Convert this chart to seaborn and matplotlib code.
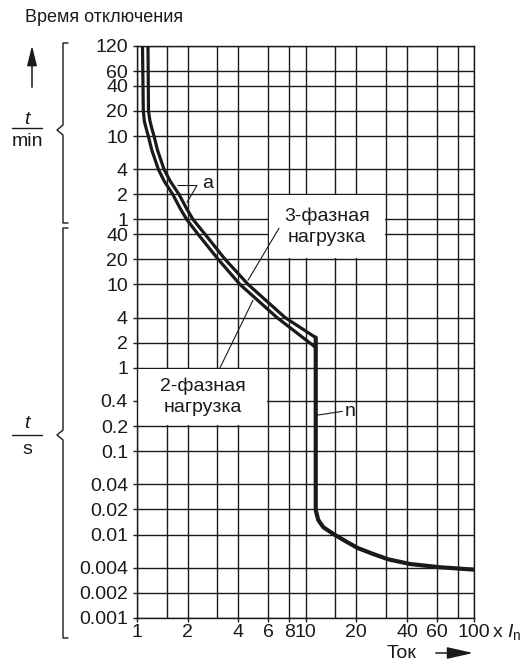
import numpy as np
import pandas as pd
import matplotlib
matplotlib.use('Agg')
import matplotlib.pyplot as plt
import seaborn as sns
from matplotlib.lines import Line2D
from matplotlib.patches import Rectangle
from matplotlib.ticker import NullFormatter

# Tripping curves (current in x In, time in seconds)
current_3ph = [1.162, 1.17, 1.194, 1.234, 1.262, 1.321, 1.446, 1.576, 1.775, 1.963,
               2.15, 2.53, 3.33, 4.56, 7.56, 11.5]
time_3ph = [7200, 1200, 905, 700, 600, 411, 240, 172, 120, 82,
            60, 40, 20, 10, 4, 2.3]

current_2ph = [1.078, 1.09, 1.105, 1.142, 1.167, 1.222, 1.338, 1.452, 1.629, 1.80,
               1.972, 2.30, 3.03, 4.08, 6.77, 11.1, 11.5]
time_2ph = [7200, 1200, 905, 700, 600, 411, 240, 172, 120, 82,
            60, 40, 20, 10, 4, 1.85, 1.75]

current_n = [11.5, 11.5, 11.9, 12.76, 14.6, 17.56, 20.5, 25.2, 30.9, 41.7, 62.7, 100]
time_n = [2.3, 0.0196, 0.015, 0.01225, 0.0102, 0.00818, 0.00687, 0.00586, 0.00506,
          0.00444, 0.00406, 0.0038]

# Axes ticks
x_ticks = [1, 2, 4, 6, 8, 10, 20, 40, 60, 100]
x_grid_extra = [1.5, 3, 15, 30, 80]
y_ticks = [0.001, 0.002, 0.004, 0.01, 0.02, 0.04, 0.1, 0.2, 0.4, 1, 2, 4, 10, 20, 40,
           60, 120, 240, 600, 1200, 2400, 3600, 7200]
y_labels = ['0.001', '0.002', '0.004', '0.01', '0.02', '0.04', '0.1', '0.2', '0.4',
            '1', '2', '4', '10', '20', '40',
            '1', '2', '4', '10', '20', '40', '60', '120']

sns.set_style('white')
plt.rcParams['font.family'] = ['Liberation Sans', 'DejaVu Sans']
plt.rcParams['mathtext.fontset'] = 'custom'
plt.rcParams['mathtext.it'] = 'Liberation Sans:italic'
plt.rcParams['mathtext.rm'] = 'Liberation Sans'

INK = '#1a1a1a'
W, H = 529, 663
fig = plt.figure(figsize=(W / 100, H / 100), dpi=100)
ax = fig.add_axes([137 / W, 1 - 618 / H, (474 - 137) / W, (618 - 46) / H])
ax.set_xscale('log')
ax.set_yscale('log')

df3 = pd.DataFrame({'I': current_3ph, 't': time_3ph})
df2 = pd.DataFrame({'I': current_2ph, 't': time_2ph})
dfn = pd.DataFrame({'I': current_n, 't': time_n})
for d, w in [(df3, 2.3), (df2, 2.3), (dfn, 3.0)]:
    sns.lineplot(data=d, x='I', y='t', sort=False, estimator=None, color=INK, lw=w,
                 ax=ax, zorder=3, solid_joinstyle='round')

ax.set_xlim(1, 100)
ax.set_ylim(0.001, 7200)
ax.set_xticks(x_ticks, labels=[str(v) for v in x_ticks])
ax.set_xticks(x_grid_extra, minor=True)
ax.xaxis.set_minor_formatter(NullFormatter())
ax.set_yticks(y_ticks, labels=y_labels)
ax.set_yticks([], minor=True)
ax.yaxis.set_minor_formatter(NullFormatter())
ax.tick_params(which='major', bottom=True, left=True, direction='out', length=3,
               width=1, labelsize=14, colors=INK)
ax.tick_params(axis='y', pad=3.5)
ax.tick_params(axis='x', pad=1)
ax.tick_params(which='minor', length=0)
ax.grid(True, which='both', color=INK, lw=1.0)
ax.set_axisbelow(True)
ax.set_xlabel('')
ax.set_ylabel('')
for s in ax.spines.values():
    s.set_color(INK)
    s.set_linewidth(1.0)

# white label boxes
ax.add_patch(Rectangle((6 * 1.01, 20 * 1.03), 30 / 1.01 - 6 * 1.01, 120 / 1.03 - 20 * 1.03,
                       facecolor='white', edgecolor='none', zorder=1))
ax.add_patch(Rectangle((1.01, 0.2 * 1.03), 6 / 1.01 - 1.01, 1 / 1.03 - 0.2 * 1.03,
                       facecolor='white', edgecolor='none', zorder=1))
ax.text(13.4, 49, '3-фазная\nнагрузка', ha='center', va='center', fontsize=14,
        linespacing=1.35, color=INK, zorder=4)
ax.text(2.45, 0.447, '2-фазная\nнагрузка', ha='center', va='center', fontsize=14,
        linespacing=1.35, color=INK, zorder=4)

# leader lines
ax.plot([6.96, 4.56], [47, 11.2], color=INK, lw=0.8, zorder=3)
ax.plot([4.88, 3.11], [6.45, 1.0], color=INK, lw=0.8, zorder=3)
ax.plot([1.75, 2.27, 1.98], [153, 153, 96], color=INK, lw=0.8, zorder=3)
ax.text(2.42, 163, 'a', ha='left', va='center', fontsize=14, color=INK)
ax.plot([11.7, 16.5], [0.27, 0.3], color=INK, lw=0.8, zorder=3)
ax.text(17.2, 0.3, 'n', ha='left', va='center', fontsize=14, color=INK)


def fig_line(xs, ys, lw=1.0):
    fig.add_artist(Line2D(np.array(xs) / W, 1 - np.array(ys) / H,
                          transform=fig.transFigure, color=INK, lw=lw))


# y axis annotations outside the plot
fig.text(25 / W, 1 - 17 / H, 'Время отключения', fontsize=13, ha='left', va='center', color=INK)
ax.annotate('', xy=(32, H - 43), xytext=(32, H - 90), xycoords='figure pixels',
            arrowprops=dict(arrowstyle='-|>,head_length=1.2,head_width=0.3',
                            mutation_scale=10, color=INK, lw=1.1))
fig_line([68, 63, 63, 57, 63, 63, 68], [43, 43, 125, 130, 135, 223, 223])
fig_line([68, 63, 63, 57, 63, 63, 68], [228, 228, 430, 435, 440, 638, 638])
fig.text(27 / W, 1 - 120 / H, 't', fontsize=14, fontstyle='italic', ha='center', va='center', color=INK)
fig_line([12, 42], [128, 128])
fig.text(27 / W, 1 - 142 / H, 'min', fontsize=14, ha='center', va='center', color=INK)
fig.text(27 / W, 1 - 424 / H, 't', fontsize=14, fontstyle='italic', ha='center', va='center', color=INK)
fig_line([12, 42], [435, 435])
fig.text(27 / W, 1 - 449 / H, 's', fontsize=14, ha='center', va='center', color=INK)

# x axis annotations
fig.text(492 / W, 1 - 637 / H, 'x $I_\\mathrm{n}$', fontsize=14, ha='left', va='baseline', color=INK)
fig.text(402 / W, 1 - 653 / H, 'Ток', fontsize=14, ha='center', va='center', color=INK)
ax.annotate('', xy=(476, H - 653), xytext=(433, H - 653), xycoords='figure pixels',
            arrowprops=dict(arrowstyle='-|>,head_length=1.6,head_width=0.36',
                            mutation_scale=10, color=INK, lw=1.1))

fig.savefig('out.png', dpi=100)
